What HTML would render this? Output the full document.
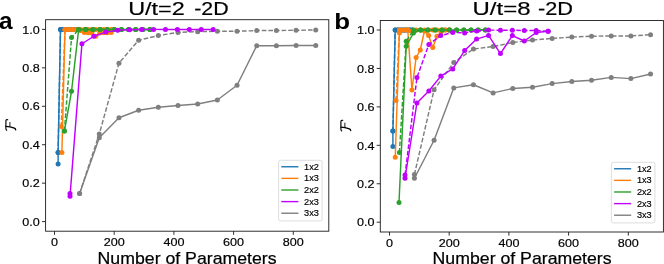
<!DOCTYPE html>
<html><head><meta charset="utf-8"><title>Fidelity vs Number of Parameters</title>
<style>html,body{margin:0;padding:0;background:#fff;}body{width:664px;height:264px;overflow:hidden;font-family:"Liberation Sans",sans-serif;}svg{display:block;will-change:transform;}</style>
</head><body>
<svg width="664" height="264" viewBox="0 0 664 264" font-family="Liberation Sans, sans-serif" fill="#000">
<rect width="664" height="264" fill="#fff"/>
<g>
<path d="M79.60 193.50 L99.28 137.75 L118.96 117.75 L138.64 110.25 L158.32 107.25 L178.00 105.50 L197.68 104.00 L217.36 100.00 L237.04 85.25 L256.72 45.75 L276.40 45.75 L296.08 45.50 L315.76 45.50" fill="none" stroke="#7f7f7f" stroke-width="1.45" stroke-linejoin="round"/>
<circle cx="79.60" cy="193.50" r="2.5" fill="#7f7f7f"/>
<circle cx="99.28" cy="137.75" r="2.5" fill="#7f7f7f"/>
<circle cx="118.96" cy="117.75" r="2.5" fill="#7f7f7f"/>
<circle cx="138.64" cy="110.25" r="2.5" fill="#7f7f7f"/>
<circle cx="158.32" cy="107.25" r="2.5" fill="#7f7f7f"/>
<circle cx="178.00" cy="105.50" r="2.5" fill="#7f7f7f"/>
<circle cx="197.68" cy="104.00" r="2.5" fill="#7f7f7f"/>
<circle cx="217.36" cy="100.00" r="2.5" fill="#7f7f7f"/>
<circle cx="237.04" cy="85.25" r="2.5" fill="#7f7f7f"/>
<circle cx="256.72" cy="45.75" r="2.5" fill="#7f7f7f"/>
<circle cx="276.40" cy="45.75" r="2.5" fill="#7f7f7f"/>
<circle cx="296.08" cy="45.50" r="2.5" fill="#7f7f7f"/>
<circle cx="315.76" cy="45.50" r="2.5" fill="#7f7f7f"/>
<path d="M79.60 193.50 L99.28 134.00 L118.96 63.20 L138.64 40.20 L158.32 35.60 L178.00 32.40 L197.68 31.70 L217.36 31.25 L237.04 31.25 L256.72 30.60 L276.40 30.50 L296.08 30.25 L315.76 30.00" fill="none" stroke="#7f7f7f" stroke-width="1.45" stroke-linejoin="round" stroke-dasharray="4.6 2"/>
<circle cx="79.60" cy="193.50" r="2.5" fill="#7f7f7f"/>
<circle cx="99.28" cy="134.00" r="2.5" fill="#7f7f7f"/>
<circle cx="118.96" cy="63.20" r="2.5" fill="#7f7f7f"/>
<circle cx="138.64" cy="40.20" r="2.5" fill="#7f7f7f"/>
<circle cx="158.32" cy="35.60" r="2.5" fill="#7f7f7f"/>
<circle cx="178.00" cy="32.40" r="2.5" fill="#7f7f7f"/>
<circle cx="197.68" cy="31.70" r="2.5" fill="#7f7f7f"/>
<circle cx="217.36" cy="31.25" r="2.5" fill="#7f7f7f"/>
<circle cx="237.04" cy="31.25" r="2.5" fill="#7f7f7f"/>
<circle cx="256.72" cy="30.60" r="2.5" fill="#7f7f7f"/>
<circle cx="276.40" cy="30.50" r="2.5" fill="#7f7f7f"/>
<circle cx="296.08" cy="30.25" r="2.5" fill="#7f7f7f"/>
<circle cx="315.76" cy="30.00" r="2.5" fill="#7f7f7f"/>
<path d="M58.10 164.10 L58.10 152.60 L60.50 29.40 L62.93 29.40 L65.36 29.40 L67.79 29.40 L70.22 29.40 L72.65 29.40 L75.08 29.40 L77.51 29.40" fill="none" stroke="#1f77b4" stroke-width="1.45" stroke-linejoin="round"/>
<circle cx="58.10" cy="164.10" r="2.5" fill="#1f77b4"/>
<circle cx="58.10" cy="152.60" r="2.5" fill="#1f77b4"/>
<circle cx="60.50" cy="29.40" r="2.5" fill="#1f77b4"/>
<circle cx="62.93" cy="29.40" r="2.5" fill="#1f77b4"/>
<circle cx="65.36" cy="29.40" r="2.5" fill="#1f77b4"/>
<circle cx="67.79" cy="29.40" r="2.5" fill="#1f77b4"/>
<circle cx="70.22" cy="29.40" r="2.5" fill="#1f77b4"/>
<circle cx="72.65" cy="29.40" r="2.5" fill="#1f77b4"/>
<circle cx="75.08" cy="29.40" r="2.5" fill="#1f77b4"/>
<circle cx="77.51" cy="29.40" r="2.5" fill="#1f77b4"/>
<path d="M58.10 152.60 L60.50 29.40 L62.93 29.40 L65.36 29.40 L67.79 29.40 L70.22 29.40 L72.65 29.40 L75.08 29.40 L77.51 29.40" fill="none" stroke="#1f77b4" stroke-width="1.45" stroke-linejoin="round" stroke-dasharray="4.6 2"/>
<circle cx="58.10" cy="152.60" r="2.5" fill="#1f77b4"/>
<circle cx="60.50" cy="29.40" r="2.5" fill="#1f77b4"/>
<circle cx="62.93" cy="29.40" r="2.5" fill="#1f77b4"/>
<circle cx="65.36" cy="29.40" r="2.5" fill="#1f77b4"/>
<circle cx="67.79" cy="29.40" r="2.5" fill="#1f77b4"/>
<circle cx="70.22" cy="29.40" r="2.5" fill="#1f77b4"/>
<circle cx="72.65" cy="29.40" r="2.5" fill="#1f77b4"/>
<circle cx="75.08" cy="29.40" r="2.5" fill="#1f77b4"/>
<circle cx="77.51" cy="29.40" r="2.5" fill="#1f77b4"/>
<path d="M61.90 152.60 L65.00 29.40 L68.85 29.40 L72.70 29.40 L76.55 29.40 L80.40 30.50 L84.25 32.60 L88.10 32.80 L91.95 33.00 L95.80 36.30 L99.65 33.00 L103.50 32.80 L107.35 32.80 L111.20 32.60" fill="none" stroke="#ff7f0e" stroke-width="1.45" stroke-linejoin="round"/>
<circle cx="61.90" cy="152.60" r="2.5" fill="#ff7f0e"/>
<circle cx="65.00" cy="29.40" r="2.5" fill="#ff7f0e"/>
<circle cx="68.85" cy="29.40" r="2.5" fill="#ff7f0e"/>
<circle cx="72.70" cy="29.40" r="2.5" fill="#ff7f0e"/>
<circle cx="76.55" cy="29.40" r="2.5" fill="#ff7f0e"/>
<circle cx="80.40" cy="30.50" r="2.5" fill="#ff7f0e"/>
<circle cx="84.25" cy="32.60" r="2.5" fill="#ff7f0e"/>
<circle cx="88.10" cy="32.80" r="2.5" fill="#ff7f0e"/>
<circle cx="91.95" cy="33.00" r="2.5" fill="#ff7f0e"/>
<circle cx="95.80" cy="36.30" r="2.5" fill="#ff7f0e"/>
<circle cx="99.65" cy="33.00" r="2.5" fill="#ff7f0e"/>
<circle cx="103.50" cy="32.80" r="2.5" fill="#ff7f0e"/>
<circle cx="107.35" cy="32.80" r="2.5" fill="#ff7f0e"/>
<circle cx="111.20" cy="32.60" r="2.5" fill="#ff7f0e"/>
<path d="M61.25 126.50 L65.00 29.40 L68.85 29.40 L72.70 29.40 L76.55 29.40 L80.40 29.40 L84.25 29.40 L88.10 29.40 L91.95 29.40 L95.80 29.40 L99.65 29.40 L103.50 29.40 L107.35 29.40 L111.20 29.40" fill="none" stroke="#ff7f0e" stroke-width="1.45" stroke-linejoin="round" stroke-dasharray="4.6 2"/>
<circle cx="61.25" cy="126.50" r="2.5" fill="#ff7f0e"/>
<circle cx="65.00" cy="29.40" r="2.5" fill="#ff7f0e"/>
<circle cx="68.85" cy="29.40" r="2.5" fill="#ff7f0e"/>
<circle cx="72.70" cy="29.40" r="2.5" fill="#ff7f0e"/>
<circle cx="76.55" cy="29.40" r="2.5" fill="#ff7f0e"/>
<circle cx="80.40" cy="29.40" r="2.5" fill="#ff7f0e"/>
<circle cx="84.25" cy="29.40" r="2.5" fill="#ff7f0e"/>
<circle cx="88.10" cy="29.40" r="2.5" fill="#ff7f0e"/>
<circle cx="91.95" cy="29.40" r="2.5" fill="#ff7f0e"/>
<circle cx="95.80" cy="29.40" r="2.5" fill="#ff7f0e"/>
<circle cx="99.65" cy="29.40" r="2.5" fill="#ff7f0e"/>
<circle cx="103.50" cy="29.40" r="2.5" fill="#ff7f0e"/>
<circle cx="107.35" cy="29.40" r="2.5" fill="#ff7f0e"/>
<circle cx="111.20" cy="29.40" r="2.5" fill="#ff7f0e"/>
<path d="M64.40 131.10 L71.53 91.25 L78.66 29.40 L85.79 29.40 L92.92 29.40 L100.05 29.40 L107.18 29.40 L114.31 29.40 L121.44 29.40 L128.57 29.40 L135.70 29.40 L142.83 29.40 L149.96 29.40" fill="none" stroke="#2ca02c" stroke-width="1.45" stroke-linejoin="round"/>
<circle cx="64.40" cy="131.10" r="2.5" fill="#2ca02c"/>
<circle cx="71.53" cy="91.25" r="2.5" fill="#2ca02c"/>
<circle cx="78.66" cy="29.40" r="2.5" fill="#2ca02c"/>
<circle cx="85.79" cy="29.40" r="2.5" fill="#2ca02c"/>
<circle cx="92.92" cy="29.40" r="2.5" fill="#2ca02c"/>
<circle cx="100.05" cy="29.40" r="2.5" fill="#2ca02c"/>
<circle cx="107.18" cy="29.40" r="2.5" fill="#2ca02c"/>
<circle cx="114.31" cy="29.40" r="2.5" fill="#2ca02c"/>
<circle cx="121.44" cy="29.40" r="2.5" fill="#2ca02c"/>
<circle cx="128.57" cy="29.40" r="2.5" fill="#2ca02c"/>
<circle cx="135.70" cy="29.40" r="2.5" fill="#2ca02c"/>
<circle cx="142.83" cy="29.40" r="2.5" fill="#2ca02c"/>
<circle cx="149.96" cy="29.40" r="2.5" fill="#2ca02c"/>
<path d="M64.40 131.10 L71.53 37.50 L78.66 29.40 L85.79 29.40 L92.92 29.40 L100.05 29.40 L107.18 29.40 L114.31 29.40 L121.44 29.40 L128.57 29.40 L135.70 29.40 L142.83 29.40 L149.96 29.40" fill="none" stroke="#2ca02c" stroke-width="1.45" stroke-linejoin="round" stroke-dasharray="4.6 2"/>
<circle cx="64.40" cy="131.10" r="2.5" fill="#2ca02c"/>
<circle cx="71.53" cy="37.50" r="2.5" fill="#2ca02c"/>
<circle cx="78.66" cy="29.40" r="2.5" fill="#2ca02c"/>
<circle cx="85.79" cy="29.40" r="2.5" fill="#2ca02c"/>
<circle cx="92.92" cy="29.40" r="2.5" fill="#2ca02c"/>
<circle cx="100.05" cy="29.40" r="2.5" fill="#2ca02c"/>
<circle cx="107.18" cy="29.40" r="2.5" fill="#2ca02c"/>
<circle cx="114.31" cy="29.40" r="2.5" fill="#2ca02c"/>
<circle cx="121.44" cy="29.40" r="2.5" fill="#2ca02c"/>
<circle cx="128.57" cy="29.40" r="2.5" fill="#2ca02c"/>
<circle cx="135.70" cy="29.40" r="2.5" fill="#2ca02c"/>
<circle cx="142.83" cy="29.40" r="2.5" fill="#2ca02c"/>
<circle cx="149.96" cy="29.40" r="2.5" fill="#2ca02c"/>
<path d="M70.00 196.20 L81.93 43.75 L93.86 36.25 L105.79 32.10 L117.72 30.30 L129.65 29.70 L141.58 29.50 L153.51 29.40 L165.44 29.40 L177.37 29.40 L189.30 29.40 L201.23 29.40 L213.16 29.40" fill="none" stroke="#bf00ff" stroke-width="1.45" stroke-linejoin="round"/>
<circle cx="70.00" cy="196.20" r="2.5" fill="#bf00ff"/>
<circle cx="81.93" cy="43.75" r="2.5" fill="#bf00ff"/>
<circle cx="93.86" cy="36.25" r="2.5" fill="#bf00ff"/>
<circle cx="105.79" cy="32.10" r="2.5" fill="#bf00ff"/>
<circle cx="117.72" cy="30.30" r="2.5" fill="#bf00ff"/>
<circle cx="129.65" cy="29.70" r="2.5" fill="#bf00ff"/>
<circle cx="141.58" cy="29.50" r="2.5" fill="#bf00ff"/>
<circle cx="153.51" cy="29.40" r="2.5" fill="#bf00ff"/>
<circle cx="165.44" cy="29.40" r="2.5" fill="#bf00ff"/>
<circle cx="177.37" cy="29.40" r="2.5" fill="#bf00ff"/>
<circle cx="189.30" cy="29.40" r="2.5" fill="#bf00ff"/>
<circle cx="201.23" cy="29.40" r="2.5" fill="#bf00ff"/>
<circle cx="213.16" cy="29.40" r="2.5" fill="#bf00ff"/>
<path d="M70.00 193.60" fill="none" stroke="#bf00ff" stroke-width="1.45" stroke-linejoin="round"/>
<circle cx="70.00" cy="193.60" r="2.5" fill="#bf00ff"/>
</g>
<rect x="45.6" y="19.7" width="283.2" height="211.5" fill="none" stroke="#1a1a1a" stroke-width="0.9"/>
<line x1="54.50" y1="231.2" x2="54.50" y2="234.79999999999998" stroke="#1a1a1a" stroke-width="0.9"/>
<text x="51.00" y="245.80" font-size="11.6" stroke="#000" stroke-width="0.18" textLength="7.0" lengthAdjust="spacingAndGlyphs">0</text>
<line x1="114.20" y1="231.2" x2="114.20" y2="234.79999999999998" stroke="#1a1a1a" stroke-width="0.9"/>
<text x="103.70" y="245.80" font-size="11.6" stroke="#000" stroke-width="0.18" textLength="21.0" lengthAdjust="spacingAndGlyphs">200</text>
<line x1="173.90" y1="231.2" x2="173.90" y2="234.79999999999998" stroke="#1a1a1a" stroke-width="0.9"/>
<text x="163.40" y="245.80" font-size="11.6" stroke="#000" stroke-width="0.18" textLength="21.0" lengthAdjust="spacingAndGlyphs">400</text>
<line x1="233.60" y1="231.2" x2="233.60" y2="234.79999999999998" stroke="#1a1a1a" stroke-width="0.9"/>
<text x="223.10" y="245.80" font-size="11.6" stroke="#000" stroke-width="0.18" textLength="21.0" lengthAdjust="spacingAndGlyphs">600</text>
<line x1="293.30" y1="231.2" x2="293.30" y2="234.79999999999998" stroke="#1a1a1a" stroke-width="0.9"/>
<text x="282.80" y="245.80" font-size="11.6" stroke="#000" stroke-width="0.18" textLength="21.0" lengthAdjust="spacingAndGlyphs">800</text>
<line x1="42.0" y1="29.40" x2="45.6" y2="29.40" stroke="#1a1a1a" stroke-width="0.9"/>
<text x="22.20" y="33.60" font-size="11.6" stroke="#000" stroke-width="0.18" textLength="17.5" lengthAdjust="spacingAndGlyphs">1.0</text>
<line x1="42.0" y1="67.84" x2="45.6" y2="67.84" stroke="#1a1a1a" stroke-width="0.9"/>
<text x="22.20" y="72.04" font-size="11.6" stroke="#000" stroke-width="0.18" textLength="17.5" lengthAdjust="spacingAndGlyphs">0.8</text>
<line x1="42.0" y1="106.28" x2="45.6" y2="106.28" stroke="#1a1a1a" stroke-width="0.9"/>
<text x="22.20" y="110.48" font-size="11.6" stroke="#000" stroke-width="0.18" textLength="17.5" lengthAdjust="spacingAndGlyphs">0.6</text>
<line x1="42.0" y1="144.72" x2="45.6" y2="144.72" stroke="#1a1a1a" stroke-width="0.9"/>
<text x="22.20" y="148.92" font-size="11.6" stroke="#000" stroke-width="0.18" textLength="17.5" lengthAdjust="spacingAndGlyphs">0.4</text>
<line x1="42.0" y1="183.16" x2="45.6" y2="183.16" stroke="#1a1a1a" stroke-width="0.9"/>
<text x="22.20" y="187.36" font-size="11.6" stroke="#000" stroke-width="0.18" textLength="17.5" lengthAdjust="spacingAndGlyphs">0.2</text>
<line x1="42.0" y1="221.60" x2="45.6" y2="221.60" stroke="#1a1a1a" stroke-width="0.9"/>
<text x="22.20" y="225.80" font-size="11.6" stroke="#000" stroke-width="0.18" textLength="17.5" lengthAdjust="spacingAndGlyphs">0.0</text>

<rect x="278.6" y="160.3" width="43.5" height="60.6" rx="1.8" ry="1.8" fill="#fff" fill-opacity="0.8" stroke="#d4d4d4" stroke-width="0.8"/>
<line x1="281.3" y1="166.75" x2="298.40000000000003" y2="166.75" stroke="#1f77b4" stroke-width="1.4"/>
<text x="304.10" y="169.80" font-size="8.4" stroke="#000" stroke-width="0.16" textLength="14.8" lengthAdjust="spacingAndGlyphs">1x2</text>
<line x1="281.3" y1="178.37" x2="298.40000000000003" y2="178.37" stroke="#ff7f0e" stroke-width="1.4"/>
<text x="304.10" y="181.42" font-size="8.4" stroke="#000" stroke-width="0.16" textLength="14.8" lengthAdjust="spacingAndGlyphs">1x3</text>
<line x1="281.3" y1="189.99" x2="298.40000000000003" y2="189.99" stroke="#2ca02c" stroke-width="1.4"/>
<text x="304.10" y="193.04" font-size="8.4" stroke="#000" stroke-width="0.16" textLength="14.8" lengthAdjust="spacingAndGlyphs">2x2</text>
<line x1="281.3" y1="201.61" x2="298.40000000000003" y2="201.61" stroke="#bf00ff" stroke-width="1.4"/>
<text x="304.10" y="204.66" font-size="8.4" stroke="#000" stroke-width="0.16" textLength="14.8" lengthAdjust="spacingAndGlyphs">2x3</text>
<line x1="281.3" y1="213.23" x2="298.40000000000003" y2="213.23" stroke="#7f7f7f" stroke-width="1.4"/>
<text x="304.10" y="216.28" font-size="8.4" stroke="#000" stroke-width="0.16" textLength="14.8" lengthAdjust="spacingAndGlyphs">3x3</text>

<text x="128.2" y="14.6" font-size="17.8" stroke="#000" stroke-width="0.18" textLength="56.6" lengthAdjust="spacingAndGlyphs">U/t=2</text>
<text x="194.2" y="14.6" font-size="17.8" stroke="#000" stroke-width="0.18" textLength="34.4" lengthAdjust="spacingAndGlyphs">-2D</text>
<text x="97.6" y="263.6" font-size="15.7" stroke="#000" stroke-width="0.22" textLength="179" lengthAdjust="spacingAndGlyphs">Number of Parameters</text>
<text x="-0.9" y="28.5" font-size="23" font-weight="bold" textLength="13.6" lengthAdjust="spacingAndGlyphs">a</text>
<g transform="translate(0,0)" fill="none" stroke="#000" stroke-linecap="round" stroke-linejoin="round">
<path d="M7.7 119.7 C6.6 119.3 5.9 119.9 5.9 121.2 L5.9 128.6 C5.9 129.4 6.2 130 6.7 130.3" stroke-width="1.15"/>
<path d="M5.9 126.4 C8.6 126.5 12 127.3 14.4 128.2 C15.1 128.5 15.6 129.1 15.7 129.8" stroke-width="1.3"/>
<path d="M9.9 122.4 L9.9 126.2" stroke-width="0.9"/>
</g>
<g>
<path d="M414.40 178.25 L434.08 140.25 L453.76 87.90 L473.44 84.75 L493.12 92.90 L512.80 88.50 L532.48 87.25 L552.16 83.60 L571.84 81.50 L591.52 80.25 L611.20 77.40 L630.88 78.60 L650.56 74.00" fill="none" stroke="#7f7f7f" stroke-width="1.45" stroke-linejoin="round"/>
<circle cx="414.40" cy="178.25" r="2.5" fill="#7f7f7f"/>
<circle cx="434.08" cy="140.25" r="2.5" fill="#7f7f7f"/>
<circle cx="453.76" cy="87.90" r="2.5" fill="#7f7f7f"/>
<circle cx="473.44" cy="84.75" r="2.5" fill="#7f7f7f"/>
<circle cx="493.12" cy="92.90" r="2.5" fill="#7f7f7f"/>
<circle cx="512.80" cy="88.50" r="2.5" fill="#7f7f7f"/>
<circle cx="532.48" cy="87.25" r="2.5" fill="#7f7f7f"/>
<circle cx="552.16" cy="83.60" r="2.5" fill="#7f7f7f"/>
<circle cx="571.84" cy="81.50" r="2.5" fill="#7f7f7f"/>
<circle cx="591.52" cy="80.25" r="2.5" fill="#7f7f7f"/>
<circle cx="611.20" cy="77.40" r="2.5" fill="#7f7f7f"/>
<circle cx="630.88" cy="78.60" r="2.5" fill="#7f7f7f"/>
<circle cx="650.56" cy="74.00" r="2.5" fill="#7f7f7f"/>
<path d="M414.40 174.50 L434.08 89.75 L453.76 62.40 L473.44 49.00 L493.12 46.60 L512.80 42.50 L532.48 40.00 L552.16 38.40 L571.84 37.10 L591.52 36.25 L611.20 35.90 L630.88 35.90 L650.56 34.75" fill="none" stroke="#7f7f7f" stroke-width="1.45" stroke-linejoin="round" stroke-dasharray="4.6 2"/>
<circle cx="414.40" cy="174.50" r="2.5" fill="#7f7f7f"/>
<circle cx="434.08" cy="89.75" r="2.5" fill="#7f7f7f"/>
<circle cx="453.76" cy="62.40" r="2.5" fill="#7f7f7f"/>
<circle cx="473.44" cy="49.00" r="2.5" fill="#7f7f7f"/>
<circle cx="493.12" cy="46.60" r="2.5" fill="#7f7f7f"/>
<circle cx="512.80" cy="42.50" r="2.5" fill="#7f7f7f"/>
<circle cx="532.48" cy="40.00" r="2.5" fill="#7f7f7f"/>
<circle cx="552.16" cy="38.40" r="2.5" fill="#7f7f7f"/>
<circle cx="571.84" cy="37.10" r="2.5" fill="#7f7f7f"/>
<circle cx="591.52" cy="36.25" r="2.5" fill="#7f7f7f"/>
<circle cx="611.20" cy="35.90" r="2.5" fill="#7f7f7f"/>
<circle cx="630.88" cy="35.90" r="2.5" fill="#7f7f7f"/>
<circle cx="650.56" cy="34.75" r="2.5" fill="#7f7f7f"/>
<path d="M392.90 146.50 L392.90 131.10 L395.20 30.00 L397.63 30.00 L400.06 30.00 L402.49 30.00 L404.92 30.00 L407.35 30.00 L409.78 30.00 L412.21 30.00" fill="none" stroke="#1f77b4" stroke-width="1.45" stroke-linejoin="round"/>
<circle cx="392.90" cy="146.50" r="2.5" fill="#1f77b4"/>
<circle cx="392.90" cy="131.10" r="2.5" fill="#1f77b4"/>
<circle cx="395.20" cy="30.00" r="2.5" fill="#1f77b4"/>
<circle cx="397.63" cy="30.00" r="2.5" fill="#1f77b4"/>
<circle cx="400.06" cy="30.00" r="2.5" fill="#1f77b4"/>
<circle cx="402.49" cy="30.00" r="2.5" fill="#1f77b4"/>
<circle cx="404.92" cy="30.00" r="2.5" fill="#1f77b4"/>
<circle cx="407.35" cy="30.00" r="2.5" fill="#1f77b4"/>
<circle cx="409.78" cy="30.00" r="2.5" fill="#1f77b4"/>
<circle cx="412.21" cy="30.00" r="2.5" fill="#1f77b4"/>
<path d="M392.90 131.10 L395.20 30.00 L397.63 30.00 L400.06 30.00 L402.49 30.00 L404.92 30.00 L407.35 30.00 L409.78 30.00 L412.21 30.00" fill="none" stroke="#1f77b4" stroke-width="1.45" stroke-linejoin="round" stroke-dasharray="4.6 2"/>
<circle cx="392.90" cy="131.10" r="2.5" fill="#1f77b4"/>
<circle cx="395.20" cy="30.00" r="2.5" fill="#1f77b4"/>
<circle cx="397.63" cy="30.00" r="2.5" fill="#1f77b4"/>
<circle cx="400.06" cy="30.00" r="2.5" fill="#1f77b4"/>
<circle cx="402.49" cy="30.00" r="2.5" fill="#1f77b4"/>
<circle cx="404.92" cy="30.00" r="2.5" fill="#1f77b4"/>
<circle cx="407.35" cy="30.00" r="2.5" fill="#1f77b4"/>
<circle cx="409.78" cy="30.00" r="2.5" fill="#1f77b4"/>
<circle cx="412.21" cy="30.00" r="2.5" fill="#1f77b4"/>
<path d="M395.25 157.25 L399.42 33.00 L403.59 30.00 L407.76 30.00 L411.93 90.00 L416.10 57.60 L420.27 50.00 L424.44 31.00 L428.61 35.60 L432.78 47.50 L436.95 36.25 L441.12 32.00 L445.29 30.00 L449.46 30.00" fill="none" stroke="#ff7f0e" stroke-width="1.45" stroke-linejoin="round"/>
<circle cx="395.25" cy="157.25" r="2.5" fill="#ff7f0e"/>
<circle cx="399.42" cy="33.00" r="2.5" fill="#ff7f0e"/>
<circle cx="403.59" cy="30.00" r="2.5" fill="#ff7f0e"/>
<circle cx="407.76" cy="30.00" r="2.5" fill="#ff7f0e"/>
<circle cx="411.93" cy="90.00" r="2.5" fill="#ff7f0e"/>
<circle cx="416.10" cy="57.60" r="2.5" fill="#ff7f0e"/>
<circle cx="420.27" cy="50.00" r="2.5" fill="#ff7f0e"/>
<circle cx="424.44" cy="31.00" r="2.5" fill="#ff7f0e"/>
<circle cx="428.61" cy="35.60" r="2.5" fill="#ff7f0e"/>
<circle cx="432.78" cy="47.50" r="2.5" fill="#ff7f0e"/>
<circle cx="436.95" cy="36.25" r="2.5" fill="#ff7f0e"/>
<circle cx="441.12" cy="32.00" r="2.5" fill="#ff7f0e"/>
<circle cx="445.29" cy="30.00" r="2.5" fill="#ff7f0e"/>
<circle cx="449.46" cy="30.00" r="2.5" fill="#ff7f0e"/>
<path d="M396.00 100.40 L399.42 30.00 L403.59 30.00 L407.76 30.00 L411.93 31.00 L416.10 30.00 L420.27 30.00 L424.44 30.00 L428.61 30.00 L432.78 30.00 L436.95 30.00 L441.12 30.00 L445.29 30.00 L449.46 30.00" fill="none" stroke="#ff7f0e" stroke-width="1.45" stroke-linejoin="round" stroke-dasharray="4.6 2"/>
<circle cx="396.00" cy="100.40" r="2.5" fill="#ff7f0e"/>
<circle cx="399.42" cy="30.00" r="2.5" fill="#ff7f0e"/>
<circle cx="403.59" cy="30.00" r="2.5" fill="#ff7f0e"/>
<circle cx="407.76" cy="30.00" r="2.5" fill="#ff7f0e"/>
<circle cx="411.93" cy="31.00" r="2.5" fill="#ff7f0e"/>
<circle cx="416.10" cy="30.00" r="2.5" fill="#ff7f0e"/>
<circle cx="420.27" cy="30.00" r="2.5" fill="#ff7f0e"/>
<circle cx="424.44" cy="30.00" r="2.5" fill="#ff7f0e"/>
<circle cx="428.61" cy="30.00" r="2.5" fill="#ff7f0e"/>
<circle cx="432.78" cy="30.00" r="2.5" fill="#ff7f0e"/>
<circle cx="436.95" cy="30.00" r="2.5" fill="#ff7f0e"/>
<circle cx="441.12" cy="30.00" r="2.5" fill="#ff7f0e"/>
<circle cx="445.29" cy="30.00" r="2.5" fill="#ff7f0e"/>
<circle cx="449.46" cy="30.00" r="2.5" fill="#ff7f0e"/>
<path d="M399.00 202.50 L406.20 46.25 L413.40 33.10 L420.60 30.00 L427.80 30.00 L435.00 30.00 L442.20 30.00 L449.40 30.00 L456.60 30.00 L463.80 30.00 L471.00 30.00 L478.20 30.00 L485.40 30.00" fill="none" stroke="#2ca02c" stroke-width="1.45" stroke-linejoin="round"/>
<circle cx="399.00" cy="202.50" r="2.5" fill="#2ca02c"/>
<circle cx="406.20" cy="46.25" r="2.5" fill="#2ca02c"/>
<circle cx="413.40" cy="33.10" r="2.5" fill="#2ca02c"/>
<circle cx="420.60" cy="30.00" r="2.5" fill="#2ca02c"/>
<circle cx="427.80" cy="30.00" r="2.5" fill="#2ca02c"/>
<circle cx="435.00" cy="30.00" r="2.5" fill="#2ca02c"/>
<circle cx="442.20" cy="30.00" r="2.5" fill="#2ca02c"/>
<circle cx="449.40" cy="30.00" r="2.5" fill="#2ca02c"/>
<circle cx="456.60" cy="30.00" r="2.5" fill="#2ca02c"/>
<circle cx="463.80" cy="30.00" r="2.5" fill="#2ca02c"/>
<circle cx="471.00" cy="30.00" r="2.5" fill="#2ca02c"/>
<circle cx="478.20" cy="30.00" r="2.5" fill="#2ca02c"/>
<circle cx="485.40" cy="30.00" r="2.5" fill="#2ca02c"/>
<path d="M399.40 152.60 L406.20 41.25 L413.40 30.00 L420.60 30.00 L427.80 30.00 L435.00 30.00 L442.20 30.00 L449.40 30.00 L456.60 30.00 L463.80 30.00 L471.00 30.00 L478.20 30.00 L485.40 30.00" fill="none" stroke="#2ca02c" stroke-width="1.45" stroke-linejoin="round" stroke-dasharray="4.6 2"/>
<circle cx="399.40" cy="152.60" r="2.5" fill="#2ca02c"/>
<circle cx="406.20" cy="41.25" r="2.5" fill="#2ca02c"/>
<circle cx="413.40" cy="30.00" r="2.5" fill="#2ca02c"/>
<circle cx="420.60" cy="30.00" r="2.5" fill="#2ca02c"/>
<circle cx="427.80" cy="30.00" r="2.5" fill="#2ca02c"/>
<circle cx="435.00" cy="30.00" r="2.5" fill="#2ca02c"/>
<circle cx="442.20" cy="30.00" r="2.5" fill="#2ca02c"/>
<circle cx="449.40" cy="30.00" r="2.5" fill="#2ca02c"/>
<circle cx="456.60" cy="30.00" r="2.5" fill="#2ca02c"/>
<circle cx="463.80" cy="30.00" r="2.5" fill="#2ca02c"/>
<circle cx="471.00" cy="30.00" r="2.5" fill="#2ca02c"/>
<circle cx="478.20" cy="30.00" r="2.5" fill="#2ca02c"/>
<circle cx="485.40" cy="30.00" r="2.5" fill="#2ca02c"/>
<path d="M405.00 178.25 L416.93 102.90 L428.86 91.00 L440.79 76.10 L452.72 68.90 L464.65 50.60 L476.58 39.10 L488.51 35.40 L500.44 53.60 L512.37 35.60 L524.30 41.00 L536.23 32.50 L548.16 31.25" fill="none" stroke="#bf00ff" stroke-width="1.45" stroke-linejoin="round"/>
<circle cx="405.00" cy="178.25" r="2.5" fill="#bf00ff"/>
<circle cx="416.93" cy="102.90" r="2.5" fill="#bf00ff"/>
<circle cx="428.86" cy="91.00" r="2.5" fill="#bf00ff"/>
<circle cx="440.79" cy="76.10" r="2.5" fill="#bf00ff"/>
<circle cx="452.72" cy="68.90" r="2.5" fill="#bf00ff"/>
<circle cx="464.65" cy="50.60" r="2.5" fill="#bf00ff"/>
<circle cx="476.58" cy="39.10" r="2.5" fill="#bf00ff"/>
<circle cx="488.51" cy="35.40" r="2.5" fill="#bf00ff"/>
<circle cx="500.44" cy="53.60" r="2.5" fill="#bf00ff"/>
<circle cx="512.37" cy="35.60" r="2.5" fill="#bf00ff"/>
<circle cx="524.30" cy="41.00" r="2.5" fill="#bf00ff"/>
<circle cx="536.23" cy="32.50" r="2.5" fill="#bf00ff"/>
<circle cx="548.16" cy="31.25" r="2.5" fill="#bf00ff"/>
<path d="M405.00 175.10 L416.93 77.60 L428.86 44.40 L440.79 35.60 L452.72 32.50 L464.65 32.90 L476.58 31.00 L488.51 30.10 L500.44 30.20 L512.37 30.20 L524.30 30.50 L536.23 30.60 L548.16 31.25" fill="none" stroke="#bf00ff" stroke-width="1.45" stroke-linejoin="round" stroke-dasharray="4.6 2"/>
<circle cx="405.00" cy="175.10" r="2.5" fill="#bf00ff"/>
<circle cx="416.93" cy="77.60" r="2.5" fill="#bf00ff"/>
<circle cx="428.86" cy="44.40" r="2.5" fill="#bf00ff"/>
<circle cx="440.79" cy="35.60" r="2.5" fill="#bf00ff"/>
<circle cx="452.72" cy="32.50" r="2.5" fill="#bf00ff"/>
<circle cx="464.65" cy="32.90" r="2.5" fill="#bf00ff"/>
<circle cx="476.58" cy="31.00" r="2.5" fill="#bf00ff"/>
<circle cx="488.51" cy="30.10" r="2.5" fill="#bf00ff"/>
<circle cx="500.44" cy="30.20" r="2.5" fill="#bf00ff"/>
<circle cx="512.37" cy="30.20" r="2.5" fill="#bf00ff"/>
<circle cx="524.30" cy="30.50" r="2.5" fill="#bf00ff"/>
<circle cx="536.23" cy="30.60" r="2.5" fill="#bf00ff"/>
<circle cx="548.16" cy="31.25" r="2.5" fill="#bf00ff"/>
</g>
<rect x="380.3" y="20.5" width="283.09999999999997" height="211.5" fill="none" stroke="#1a1a1a" stroke-width="0.9"/>
<line x1="389.50" y1="232.0" x2="389.50" y2="235.6" stroke="#1a1a1a" stroke-width="0.9"/>
<text x="386.00" y="246.60" font-size="11.6" stroke="#000" stroke-width="0.18" textLength="7.0" lengthAdjust="spacingAndGlyphs">0</text>
<line x1="449.20" y1="232.0" x2="449.20" y2="235.6" stroke="#1a1a1a" stroke-width="0.9"/>
<text x="438.70" y="246.60" font-size="11.6" stroke="#000" stroke-width="0.18" textLength="21.0" lengthAdjust="spacingAndGlyphs">200</text>
<line x1="508.90" y1="232.0" x2="508.90" y2="235.6" stroke="#1a1a1a" stroke-width="0.9"/>
<text x="498.40" y="246.60" font-size="11.6" stroke="#000" stroke-width="0.18" textLength="21.0" lengthAdjust="spacingAndGlyphs">400</text>
<line x1="568.60" y1="232.0" x2="568.60" y2="235.6" stroke="#1a1a1a" stroke-width="0.9"/>
<text x="558.10" y="246.60" font-size="11.6" stroke="#000" stroke-width="0.18" textLength="21.0" lengthAdjust="spacingAndGlyphs">600</text>
<line x1="628.30" y1="232.0" x2="628.30" y2="235.6" stroke="#1a1a1a" stroke-width="0.9"/>
<text x="617.80" y="246.60" font-size="11.6" stroke="#000" stroke-width="0.18" textLength="21.0" lengthAdjust="spacingAndGlyphs">800</text>
<line x1="376.7" y1="30.00" x2="380.3" y2="30.00" stroke="#1a1a1a" stroke-width="0.9"/>
<text x="356.90" y="34.20" font-size="11.6" stroke="#000" stroke-width="0.18" textLength="17.5" lengthAdjust="spacingAndGlyphs">1.0</text>
<line x1="376.7" y1="68.44" x2="380.3" y2="68.44" stroke="#1a1a1a" stroke-width="0.9"/>
<text x="356.90" y="72.64" font-size="11.6" stroke="#000" stroke-width="0.18" textLength="17.5" lengthAdjust="spacingAndGlyphs">0.8</text>
<line x1="376.7" y1="106.88" x2="380.3" y2="106.88" stroke="#1a1a1a" stroke-width="0.9"/>
<text x="356.90" y="111.08" font-size="11.6" stroke="#000" stroke-width="0.18" textLength="17.5" lengthAdjust="spacingAndGlyphs">0.6</text>
<line x1="376.7" y1="145.32" x2="380.3" y2="145.32" stroke="#1a1a1a" stroke-width="0.9"/>
<text x="356.90" y="149.52" font-size="11.6" stroke="#000" stroke-width="0.18" textLength="17.5" lengthAdjust="spacingAndGlyphs">0.4</text>
<line x1="376.7" y1="183.76" x2="380.3" y2="183.76" stroke="#1a1a1a" stroke-width="0.9"/>
<text x="356.90" y="187.96" font-size="11.6" stroke="#000" stroke-width="0.18" textLength="17.5" lengthAdjust="spacingAndGlyphs">0.2</text>
<line x1="376.7" y1="222.20" x2="380.3" y2="222.20" stroke="#1a1a1a" stroke-width="0.9"/>
<text x="356.90" y="226.40" font-size="11.6" stroke="#000" stroke-width="0.18" textLength="17.5" lengthAdjust="spacingAndGlyphs">0.0</text>

<rect x="611.4" y="162.3" width="43.5" height="60.6" rx="1.8" ry="1.8" fill="#fff" fill-opacity="0.8" stroke="#d4d4d4" stroke-width="0.8"/>
<line x1="614.1" y1="168.75" x2="631.1999999999999" y2="168.75" stroke="#1f77b4" stroke-width="1.4"/>
<text x="636.90" y="171.80" font-size="8.4" stroke="#000" stroke-width="0.16" textLength="14.8" lengthAdjust="spacingAndGlyphs">1x2</text>
<line x1="614.1" y1="180.37" x2="631.1999999999999" y2="180.37" stroke="#ff7f0e" stroke-width="1.4"/>
<text x="636.90" y="183.42" font-size="8.4" stroke="#000" stroke-width="0.16" textLength="14.8" lengthAdjust="spacingAndGlyphs">1x3</text>
<line x1="614.1" y1="191.99" x2="631.1999999999999" y2="191.99" stroke="#2ca02c" stroke-width="1.4"/>
<text x="636.90" y="195.04" font-size="8.4" stroke="#000" stroke-width="0.16" textLength="14.8" lengthAdjust="spacingAndGlyphs">2x2</text>
<line x1="614.1" y1="203.61" x2="631.1999999999999" y2="203.61" stroke="#bf00ff" stroke-width="1.4"/>
<text x="636.90" y="206.66" font-size="8.4" stroke="#000" stroke-width="0.16" textLength="14.8" lengthAdjust="spacingAndGlyphs">2x3</text>
<line x1="614.1" y1="215.23" x2="631.1999999999999" y2="215.23" stroke="#7f7f7f" stroke-width="1.4"/>
<text x="636.90" y="218.28" font-size="8.4" stroke="#000" stroke-width="0.16" textLength="14.8" lengthAdjust="spacingAndGlyphs">3x3</text>

<text x="472.5" y="15.3" font-size="17.8" stroke="#000" stroke-width="0.18" textLength="58" lengthAdjust="spacingAndGlyphs">U/t=8</text>
<text x="538" y="15.3" font-size="17.8" stroke="#000" stroke-width="0.18" textLength="35" lengthAdjust="spacingAndGlyphs">-2D</text>
<text x="432.6" y="263.9" font-size="15.7" stroke="#000" stroke-width="0.22" textLength="179" lengthAdjust="spacingAndGlyphs">Number of Parameters</text>
<text x="334.3" y="28.9" font-size="22.6" font-weight="bold" textLength="15.8" lengthAdjust="spacingAndGlyphs">b</text>
<g transform="translate(335,0.7)" fill="none" stroke="#000" stroke-linecap="round" stroke-linejoin="round">
<path d="M7.7 119.7 C6.6 119.3 5.9 119.9 5.9 121.2 L5.9 128.6 C5.9 129.4 6.2 130 6.7 130.3" stroke-width="1.15"/>
<path d="M5.9 126.4 C8.6 126.5 12 127.3 14.4 128.2 C15.1 128.5 15.6 129.1 15.7 129.8" stroke-width="1.3"/>
<path d="M9.9 122.4 L9.9 126.2" stroke-width="0.9"/>
</g>
</svg>
</body></html>
